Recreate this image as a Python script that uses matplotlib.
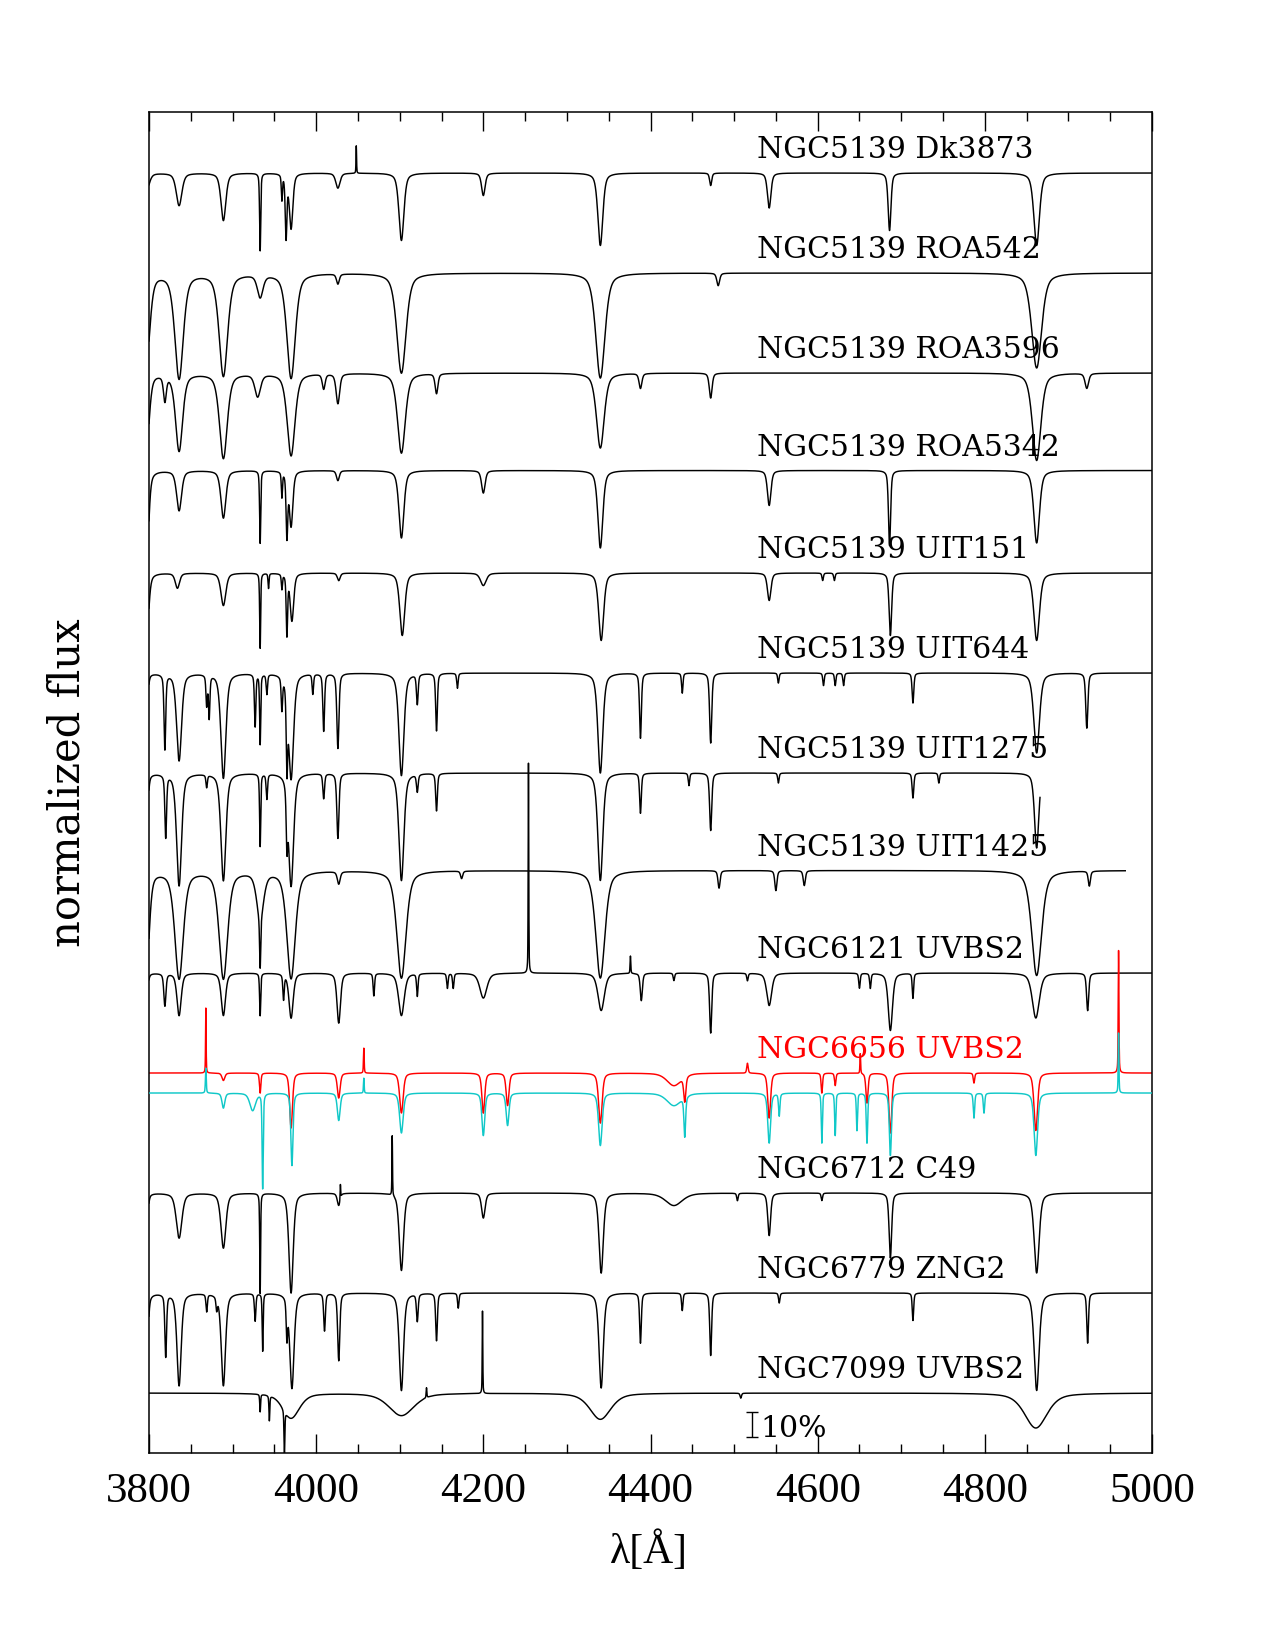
import numpy as np
import matplotlib
matplotlib.use("Agg")
import matplotlib.pyplot as plt

# spectrum labels, continuum offsets (normalized flux units) and colours
names = ["NGC5139 Dk3873", "NGC5139 ROA542", "NGC5139 ROA3596", "NGC5139 ROA5342",
         "NGC5139 UIT151", "NGC5139 UIT644", "NGC5139 UIT1275", "NGC5139 UIT1425",
         "NGC6121 UVBS2", "NGC6656 UVBS2", "", "NGC6712 C49", "NGC6779 ZNG2",
         "NGC7099 UVBS2"]
offsets = [5.12, 4.72, 4.32, 3.93, 3.52, 3.12, 2.72, 2.33, 1.92, 1.52, 1.44, 1.04, 0.64, 0.24]
colors = ["black"] * 9 + ["red", "#10c8c8"] + ["black"] * 3
wl_end = [5000, 5000, 5000, 5000, 5000, 5000, 4866, 4968, 5000, 5000, 5000, 5000, 5000, 5000]

# line lists: centre [A], depth (negative = spike), half width [A]
dk3873_wl = [3797, 3836, 3889, 3933, 3959, 3964, 3970, 4026, 4048, 4102, 4200, 4340, 4472, 4542, 4686, 4862]
dk3873_dp = [0.07, 0.13, 0.19, 0.31, 0.10, 0.25, 0.22, 0.06, -0.11, 0.27, 0.09, 0.29, 0.05, 0.14, 0.23, 0.29]
dk3873_hw = [4, 4, 3.5, 0.8, 0.8, 1.2, 2.5, 3, 0.4, 3.5, 2.5, 3.5, 1.5, 2.5, 2, 4]

roa542_wl = [3797, 3836, 3889, 3933, 3970, 4026, 4102, 4340, 4481, 4862]
roa542_dp = [0.35, 0.42, 0.41, 0.09, 0.42, 0.04, 0.40, 0.42, 0.05, 0.38]
roa542_hw = [5, 6, 6, 4, 6, 2, 6.5, 6.5, 2, 7]

roa3596_wl = [3797, 3819, 3836, 3889, 3930, 3970, 4009, 4026, 4102, 4144, 4340, 4388, 4472, 4862, 4922]
roa3596_dp = [0.30, 0.10, 0.31, 0.34, 0.09, 0.33, 0.06, 0.12, 0.32, 0.08, 0.30, 0.06, 0.10, 0.35, 0.06]
roa3596_hw = [4, 2, 5, 5.5, 4, 5.5, 2, 2.5, 5.5, 2, 5.5, 2, 2, 6, 2.5]

roa5342_wl = [3797, 3836, 3889, 3933, 3959, 3965, 3970, 4026, 4102, 4200, 4340, 4542, 4686, 4862]
roa5342_dp = [0.40, 0.16, 0.19, 0.29, 0.10, 0.25, 0.22, 0.04, 0.27, 0.09, 0.31, 0.14, 0.30, 0.29]
roa5342_hw = [3, 3.5, 3.5, 0.8, 0.8, 1.2, 2.5, 2, 3.5, 2.5, 3.5, 2.5, 1.5, 4]

uit151_wl = [3797, 3834, 3889, 3933, 3943, 3959, 3965, 3971, 4027, 4103, 4200, 4341, 4542, 4606, 4620, 4687, 4862]
uit151_dp = [0.28, 0.06, 0.13, 0.30, 0.06, 0.06, 0.24, 0.19, 0.03, 0.25, 0.05, 0.27, 0.11, 0.03, 0.03, 0.25, 0.27]
uit151_hw = [3, 3, 3.5, 0.7, 0.7, 0.8, 1.0, 2.5, 2, 3.5, 4, 3.5, 2.5, 1, 1, 1.8, 4]

uit644_wl = [3797, 3819, 3836, 3869, 3872, 3889, 3927, 3933, 3941, 3959, 3965, 3970, 3996, 4009, 4026,
             4102, 4121, 4144, 4169, 4340, 4388, 4438, 4472, 4553, 4607, 4621, 4631, 4714, 4862, 4922]
uit644_dp = [0.16, 0.30, 0.35, 0.12, 0.17, 0.42, 0.21, 0.28, 0.08, 0.13, 0.30, 0.42, 0.08, 0.23, 0.30,
             0.41, 0.12, 0.23, 0.06, 0.40, 0.26, 0.08, 0.28, 0.04, 0.05, 0.05, 0.05, 0.12, 0.32, 0.22]
uit644_hw = [2, 1.2, 3.5, 1, 1, 3.5, 1, 0.8, 1, 1, 1, 3.5, 1, 1.2, 1.5,
             3.5, 1.2, 1.2, 1, 3.5, 1.3, 1, 1.5, 1, 1, 1, 1, 1.2, 4, 1.5]

uit1275_wl = [3797, 3820, 3836, 3869, 3889, 3933, 3941, 3965, 3970, 4009, 4026, 4102, 4121, 4144,
              4340, 4388, 4446, 4472, 4553, 4714, 4745, 4862]
uit1275_dp = [0.25, 0.25, 0.45, 0.05, 0.43, 0.29, 0.10, 0.20, 0.45, 0.10, 0.26, 0.43, 0.07, 0.15,
              0.43, 0.16, 0.05, 0.23, 0.04, 0.10, 0.04, 0.30]
uit1275_hw = [2, 1.2, 3.5, 1, 3.5, 0.8, 1, 1, 3.5, 1.2, 1.5, 3.5, 1.2, 1.2,
              3.5, 1.2, 1, 1.5, 1, 1.2, 1, 3]

uit1425_wl = [3797, 3836, 3889, 3933, 3933, 3970, 4027, 4102, 4174, 4340, 4482, 4550, 4584, 4862, 4925]
uit1425_dp = [0.40, 0.43, 0.43, 0.18, 0.20, 0.43, 0.05, 0.43, 0.03, 0.43, 0.07, 0.08, 0.06, 0.42, 0.06]
uit1425_hw = [4, 6, 6, 5, 0.8, 6, 2, 6.5, 1.5, 6.5, 1.5, 1.5, 1.5, 7, 1.5]

n6121_wl = [3797, 3819, 3836, 3889, 3933, 3961, 3970, 4027, 4069, 4102, 4121, 4157, 4164, 4200, 4254,
            4341, 4376, 4389, 4428, 4472, 4516, 4542, 4650, 4663, 4687, 4714, 4861, 4923]
n6121_dp = [0.10, 0.13, 0.17, 0.17, 0.17, 0.10, 0.18, 0.20, 0.09, 0.17, 0.09, 0.06, 0.06, 0.10, -0.84,
            0.15, -0.07, 0.11, 0.03, 0.24, 0.03, 0.13, 0.06, 0.06, 0.23, 0.10, 0.18, 0.15]
n6121_hw = [2, 1.5, 3, 3, 0.8, 1, 3, 2.5, 1, 4, 1, 1, 1, 5, 0.4,
            4.5, 0.5, 1.5, 1, 1.5, 1, 3.5, 1, 1, 3, 1, 5, 1.5]

n6656_wl = [3868, 3889, 3933, 3970, 4027, 4057, 4102, 4200, 4229, 4340, 4428, 4441, 4516, 4542,
            4605, 4621, 4651, 4659, 4687, 4787, 4861, 4960]
n6656_dp = [-0.26, 0.03, 0.08, 0.22, 0.10, -0.10, 0.16, 0.16, 0.13, 0.20, 0.05, 0.10, -0.04, 0.18,
            0.08, 0.05, -0.08, 0.12, 0.24, 0.04, 0.23, -0.49]
n6656_hw = [0.4, 2, 1, 2, 2, 0.5, 2.5, 2, 2, 2.5, 10, 1.5, 1, 2,
            1, 1, 0.5, 1.5, 2, 1, 2.5, 0.5]

n6656b_wl = [3868, 3889, 3924, 3936, 3971, 4027, 4057, 4102, 4200, 4229, 4340, 4428, 4441, 4542, 4554,
             4605, 4621, 4647, 4659, 4687, 4787, 4799, 4861, 4960]
n6656b_dp = [-0.10, 0.06, 0.07, 0.38, 0.29, 0.11, -0.06, 0.16, 0.17, 0.13, 0.21, 0.05, 0.16, 0.20, 0.09,
             0.20, 0.17, 0.15, 0.20, 0.25, 0.10, 0.08, 0.25, -0.24]
n6656b_hw = [0.6, 2, 4, 0.8, 1.5, 2, 0.5, 2.5, 2, 2, 2.5, 10, 1.2, 2, 1,
             0.8, 0.8, 0.8, 1, 1.5, 1, 1, 2.5, 0.5]

n6712_wl = [3797, 3836, 3889, 3933, 3970, 4027, 4029, 4091, 4102, 4200, 4341, 4428, 4504, 4542, 4605, 4687, 4862]
n6712_dp = [0.15, 0.18, 0.22, 0.40, 0.40, 0.05, -0.06, -0.24, 0.31, 0.10, 0.32, 0.05, 0.03, 0.17, 0.03, 0.26, 0.32]
n6712_hw = [2, 4, 3.5, 0.6, 3, 2, 0.4, 0.4, 3, 2.5, 3, 12, 1, 2, 1, 1.8, 3.5]

n6779_wl = [3797, 3820, 3836, 3869, 3881, 3889, 3927, 3936, 3965, 3971, 4010, 4027, 4102, 4121, 4144,
            4170, 4341, 4388, 4438, 4472, 4554, 4714, 4862, 4923]
n6779_dp = [0.35, 0.25, 0.37, 0.07, 0.05, 0.37, 0.11, 0.23, 0.15, 0.38, 0.15, 0.27, 0.39, 0.11, 0.19,
            0.06, 0.38, 0.20, 0.07, 0.25, 0.04, 0.11, 0.39, 0.20]
n6779_hw = [2, 1.2, 3, 1, 1, 3, 1, 0.7, 1, 3, 1.2, 1.5, 3, 1.2, 1.2,
            1, 3, 1.2, 1, 1.3, 1, 1, 3.5, 1.2]

n7099_wl = [3933, 3944, 3962, 3970, 4102, 4132, 4199, 4340, 4508, 4861]
n7099_dp = [0.07, 0.10, 0.18, 0.10, 0.09, -0.04, -0.33, 0.105, 0.02, 0.14]
n7099_hw = [0.6, 0.6, 0.6, 12, 18, 0.5, 0.4, 15, 1, 16]

line_lists = [(dk3873_wl, dk3873_dp, dk3873_hw), (roa542_wl, roa542_dp, roa542_hw),
              (roa3596_wl, roa3596_dp, roa3596_hw), (roa5342_wl, roa5342_dp, roa5342_hw),
              (uit151_wl, uit151_dp, uit151_hw), (uit644_wl, uit644_dp, uit644_hw),
              (uit1275_wl, uit1275_dp, uit1275_hw), (uit1425_wl, uit1425_dp, uit1425_hw),
              (n6121_wl, n6121_dp, n6121_hw), (n6656_wl, n6656_dp, n6656_hw),
              (n6656b_wl, n6656b_dp, n6656b_hw), (n6712_wl, n6712_dp, n6712_hw),
              (n6779_wl, n6779_dp, n6779_hw), (n7099_wl, n7099_dp, n7099_hw)]


def spectrum(wl, centres, depths, widths):
    flux = np.ones_like(wl)
    for c, d, w in zip(centres, depths, widths):
        x = (wl - c) / w
        flux -= d * (0.5 * np.exp(-np.log(2) * x**2) + 0.5 / (1 + x**2))
    return flux


fig = plt.figure(figsize=(12.75, 16.5), dpi=100)
ax = fig.add_axes([149 / 1275, 1 - 1453 / 1650, 1003 / 1275, 1341 / 1650])

for i, (cw, dp, hw) in enumerate(line_lists):
    wl = np.arange(3800, wl_end[i] + 0.01, 0.2)
    flux = spectrum(wl, cw, dp, hw)
    ax.plot(wl, flux - 1 + offsets[i], color=colors[i], lw=1.05, zorder=3 if i == 10 else 2)
    if names[i]:
        ax.text(4528, offsets[i] + 0.06, names[i], color=colors[i], fontsize=21.5,
                family="DejaVu Serif", va="baseline", ha="left")

# 10% scale bar
ax.errorbar([4522], [0.114], yerr=[0.05], color="black", lw=1.0, capsize=4, capthick=1.0)
ax.text(4531, 0.064, "10%", fontsize=21.5, family="DejaVu Serif", va="baseline")

ax.set_xlim(3800, 5000)
ax.set_ylim(0, 1341 / 250)
ax.set_xticks(np.arange(3800, 5001, 200))
ax.set_xticks(np.arange(3800, 5001, 50), minor=True)
ax.set_yticks([])
ax.tick_params(axis="x", which="both", direction="in", top=True, bottom=True, width=1.0)
ax.tick_params(axis="x", which="major", length=14, pad=14, labelsize=31)
ax.tick_params(axis="x", which="minor", length=6.5)
for lab in ax.get_xticklabels():
    lab.set_family("Liberation Serif")
for s in ax.spines.values():
    s.set_linewidth(1.1)

ax.set_xlabel("λ[Å]", fontsize=30, family="Liberation Serif", va="center")
ax.xaxis.set_label_coords(0.4985, -0.0738)
ax.set_ylabel("normalized flux", fontsize=30, family="DejaVu Serif", va="center")
ax.yaxis.set_label_coords(-0.081, 0.5)

fig.savefig("out.png", dpi=100)
